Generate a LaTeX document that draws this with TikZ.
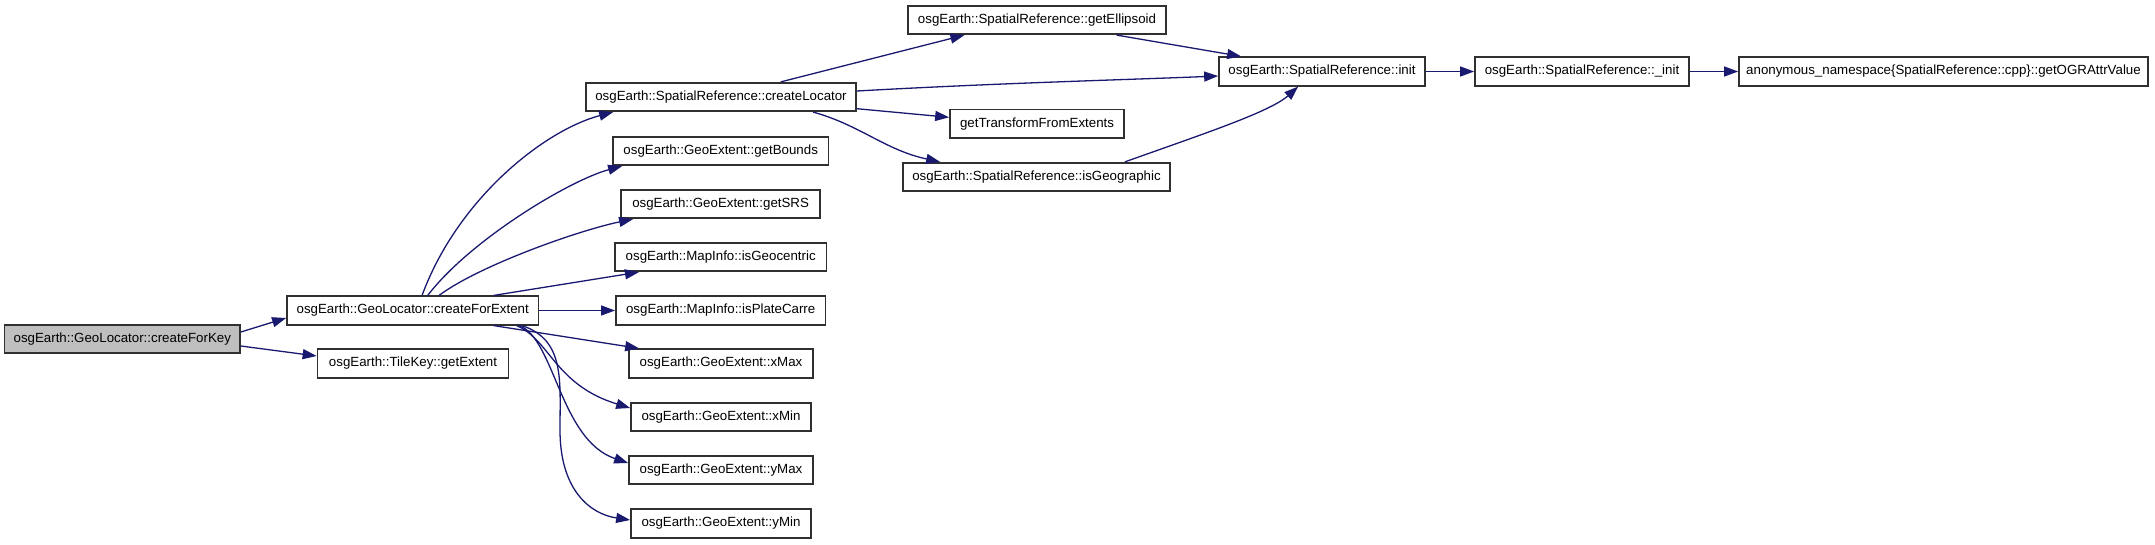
\documentclass[tikz,border=0pt]{standalone}
\usepackage{fontspec}
\setmainfont{Liberation Sans}
\usetikzlibrary{arrows.meta,calc}
\definecolor{edgeblue}{HTML}{191970}
\definecolor{rootgray}{HTML}{BFBFBF}
\definecolor{boxline}{HTML}{303030}
\tikzset{
  fnbox/.style={draw=boxline, line width=1.7pt, fill=white, minimum height=28.5pt, inner sep=0pt,
    font=\fontsize{13.3}{15}\selectfont},
  rootbox/.style={fnbox, fill=rootgray},
  calledge/.style={draw=edgeblue, line width=1.3pt, -{Triangle[length=14pt,width=10pt]}}
}
\begin{document}
\begin{tikzpicture}[x=1pt,y=-1pt]
\useasboundingbox (0,0) rectangle (2155,544);
% nodes
\node[rootbox, minimum width=235.4pt] (key) at (122.3,339) {osgEarth::GeoLocator::createForKey};
\node[fnbox, minimum width=251.5pt] (ext) at (412.75,310.5) {osgEarth::GeoLocator::createForExtent};
\node[fnbox, minimum width=191pt] (tile) at (413,363.5) {osgEarth::TileKey::getExtent};
\node[fnbox, minimum width=270pt] (loc) at (721,97) {osgEarth::SpatialReference::createLocator};
\node[fnbox, minimum width=215.4pt] (bounds) at (720.7,151) {osgEarth::GeoExtent::getBounds};
\node[fnbox, minimum width=199.3pt] (srs) at (720.6,204) {osgEarth::GeoExtent::getSRS};
\node[fnbox, minimum width=211.8pt] (geoc) at (720.7,257) {osgEarth::MapInfo::isGeocentric};
\node[fnbox, minimum width=209.5pt] (plate) at (720.7,310.5) {osgEarth::MapInfo::isPlateCarre};
\node[fnbox, minimum width=184pt] (xmax) at (721,363.5) {osgEarth::GeoExtent::xMax};
\node[fnbox, minimum width=180pt] (xmin) at (721,417) {osgEarth::GeoExtent::xMin};
\node[fnbox, minimum width=184pt] (ymax) at (721,470) {osgEarth::GeoExtent::yMax};
\node[fnbox, minimum width=180pt] (ymin) at (721,523.5) {osgEarth::GeoExtent::yMin};
\node[fnbox, minimum width=257.5pt] (ell) at (1037,20) {osgEarth::SpatialReference::getEllipsoid};
\node[fnbox, minimum width=206pt] (init) at (1322,71.5) {osgEarth::SpatialReference::init};
\node[fnbox, minimum width=174pt] (trans) at (1037,123.7) {getTransformFromExtents};
\node[fnbox, minimum width=267pt] (geog) at (1036.5,177) {osgEarth::SpatialReference::isGeographic};
\node[fnbox, minimum width=214pt] (uinit) at (1582,71.5) {osgEarth::SpatialReference::\_init};
\node[fnbox, minimum width=409pt] (ogr) at (1943.5,71.5) {anonymous\_namespace\{SpatialReference::cpp\}::getOGRAttrValue};
% edges
\draw[calledge] ($(key.east)+(0,-7)$) -- ($(ext.west)+(0,7.5)$);
\draw[calledge] ($(key.east)+(0,7)$) -- ($(tile.west)+(0,-7.5)$);
\draw[calledge] ($(ext.north)+(9.3,0)$) .. controls (458,198) and (545,130) .. ($(loc.south west)+(28,0)$);
\draw[calledge] ($(ext.north)+(15,0)$) .. controls (470,240) and (570,180) .. ($(bounds.south west)+(10,0)$);
\draw[calledge] ($(ext.north)+(26.3,0)$) .. controls (480,265) and (580,230) .. ($(srs.south west)+(13,0)$);
\draw[calledge] ($(ext.north)+(81,0)$) -- ($(geoc.south west)+(25,0)$);
\draw[calledge] (ext.east) -- (plate.west);
\draw[calledge] ($(ext.south)+(81,0)$) -- ($(xmax.north west)+(11,0)$);
\draw[calledge] ($(ext.south)+(104,0)$) .. controls (550,340) and (555,385) .. ($(xmin.west)+(0,-9)$);
\draw[calledge] ($(ext.south)+(106.8,0)$) .. controls (555,340) and (560,440) .. ($(ymax.west)+(0,-7)$);
\draw[calledge] ($(ext.south)+(109.3,0)$) .. controls (565,340) and (560,380) .. (560,430)
  .. controls (560,490) and (590,514) .. ($(ymin.west)+(0,-3.5)$);
\draw[calledge] ($(loc.north)+(59.7,0)$) -- ($(ell.south west)+(57,0)$);
\draw[calledge] ($(loc.east)+(0,-6)$) .. controls (1000,83) and (1120,80) .. ($(init.west)+(0,4.5)$);
\draw[calledge] ($(loc.east)+(0,11.7)$) -- ($(trans.west)+(0,-6.4)$);
\draw[calledge] ($(loc.south east)+(-43.7,0)$) .. controls (860,125) and (885,150) .. ($(geog.north west)+(38,0)$);
\draw[calledge] ($(ell.south east)+(-50,0)$) -- ($(init.north west)+(23,0)$);
\draw[calledge] ($(geog.north east)+(-46,0)$) .. controls (1200,135) and (1270,112) .. ($(init.south west)+(80,0)$);
\draw[calledge] (init.east) -- (uinit.west);
\draw[calledge] (uinit.east) -- (ogr.west);
\end{tikzpicture}
\end{document}
